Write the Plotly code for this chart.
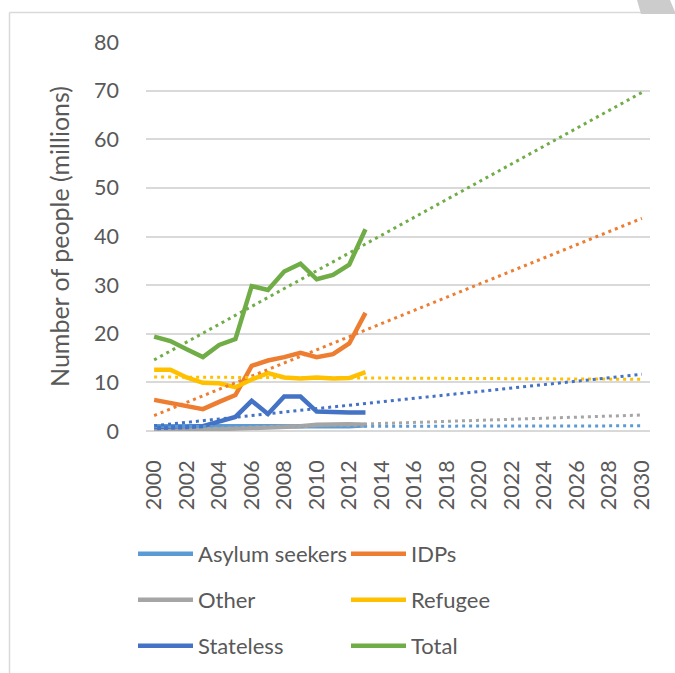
import numpy as np
import plotly.graph_objects as go

# Observed years and the forecast horizon for the trendlines
years = list(range(2000, 2014))
forecast_years = list(range(2000, 2031))
tick_years = list(range(2000, 2031, 2))

# People of concern by category (millions)
asylum_seekers = [1.0, 1.0, 1.0, 0.9, 0.9, 0.8, 0.8, 0.8, 0.9, 1.0, 0.9, 0.9, 1.0, 1.2]
idps = [6.4, 5.7, 5.0, 4.5, 6.0, 7.4, 13.4, 14.5, 15.2, 16.1, 15.2, 15.8, 18.0, 24.3]
other = [0.2, 0.2, 0.2, 0.3, 0.4, 0.5, 0.6, 0.7, 0.8, 1.0, 1.3, 1.4, 1.4, 1.3]
refugee = [12.6, 12.6, 11.0, 9.9, 9.8, 9.0, 10.6, 11.9, 11.0, 10.8, 11.0, 10.8, 10.9, 12.1]
stateless = [0.6, 0.6, 0.8, 1.0, 1.9, 2.9, 6.2, 3.5, 7.1, 7.1, 4.0, 3.8, 3.8, 3.8]
total = [19.4, 18.5, 16.8, 15.2, 17.7, 18.9, 29.8, 29.0, 32.8, 34.4, 31.2, 32.1, 34.2, 41.5]

series = [
    ("Asylum seekers", asylum_seekers, "#5B9BD5", "legend"),
    ("IDPs", idps, "#ED7D31", "legend"),
    ("Other", other, "#A5A5A5", "legend2"),
    ("Refugee", refugee, "#FFC000", "legend2"),
    ("Stateless", stateless, "#4472C4", "legend3"),
    ("Total", total, "#70AD47", "legend3"),
]

FONT = "Lato"
TEXT = "#595959"
GRID = "#D9D9D9"

fig = go.Figure()

for name, values, color, leg in series:
    fig.add_trace(go.Scatter(
        x=years, y=values, name=name, mode="lines",
        line=dict(color=color, width=4.5),
        legend=leg,
    ))

# Linear least-squares trendlines, projected to 2030
for name, values, color, leg in series:
    slope, intercept = np.polyfit(years, values, 1)
    trend = [slope * yr + intercept for yr in forecast_years]
    fig.add_trace(go.Scatter(
        x=forecast_years, y=trend, mode="lines", showlegend=False,
        line=dict(color=color, width=3, dash="3px,4px"),
        hoverinfo="skip",
    ))

W, H = 675, 673
L, R, T, B = 146, 25, 42, 242
pw, ph = W - L - R, H - T - B


def px(x):
    return (x - L) / pw


def py(y):
    return (H - B - y) / ph


legend_common = dict(
    orientation="h", xanchor="left", yanchor="middle",
    font=dict(family=FONT, size=22, color=TEXT),
    itemwidth=55, entrywidth=143, entrywidthmode="pixels",
    bgcolor="rgba(0,0,0,0)", borderwidth=0, tracegroupgap=0,
    itemclick=False, itemdoubleclick=False,
)

fig.update_layout(
    width=W, height=H,
    margin=dict(l=L, r=R, t=T, b=B, autoexpand=False),
    paper_bgcolor="white", plot_bgcolor="white",
    font=dict(family=FONT, size=21, color=TEXT),
    legend=dict(legend_common, x=px(133), y=py(554)),
    legend2=dict(legend_common, x=px(133), y=py(600)),
    legend3=dict(legend_common, x=px(133), y=py(646)),
    xaxis=dict(
        range=[1999.5, 2030.5], tickvals=tick_years,
        tickangle=-90, showgrid=False, zeroline=False,
        showline=False, ticks="", ticklabelstandoff=24,
        tickfont=dict(family=FONT, size=21.5, color=TEXT),
    ),
    yaxis=dict(
        range=[0, 80], tick0=0, dtick=10,
        showgrid=True, gridcolor=GRID, gridwidth=1.5,
        zeroline=True, zerolinecolor=GRID, zerolinewidth=1.5,
        showline=False, ticks="", ticklabelstandoff=26,
        tickfont=dict(family=FONT, size=21.5, color=TEXT),
        title=dict(text="Number of people (millions)", standoff=17,
                   font=dict(family=FONT, size=25, color=TEXT)),
    ),
    shapes=[
        # chart frame (left and top edges visible)
        dict(type="line", xref="paper", yref="paper",
             x0=px(9.5), y0=py(12.5), x1=px(9.5), y1=py(700),
             line=dict(color=GRID, width=1.5)),
        dict(type="line", xref="paper", yref="paper",
             x0=px(9.5), y0=py(12.5), x1=px(700), y1=py(12.5),
             line=dict(color=GRID, width=1.5)),
        # folded corner in the top right
        dict(type="path", xref="paper", yref="paper",
             path=f"M {px(637)} {py(0)} L {px(670)} {py(0)} "
                  f"L {px(676)} {py(14)} L {px(641)} {py(14)} Z",
             fillcolor="#CCCCCC", line=dict(width=0)),
    ],
)

fig.write_html("out.html")
